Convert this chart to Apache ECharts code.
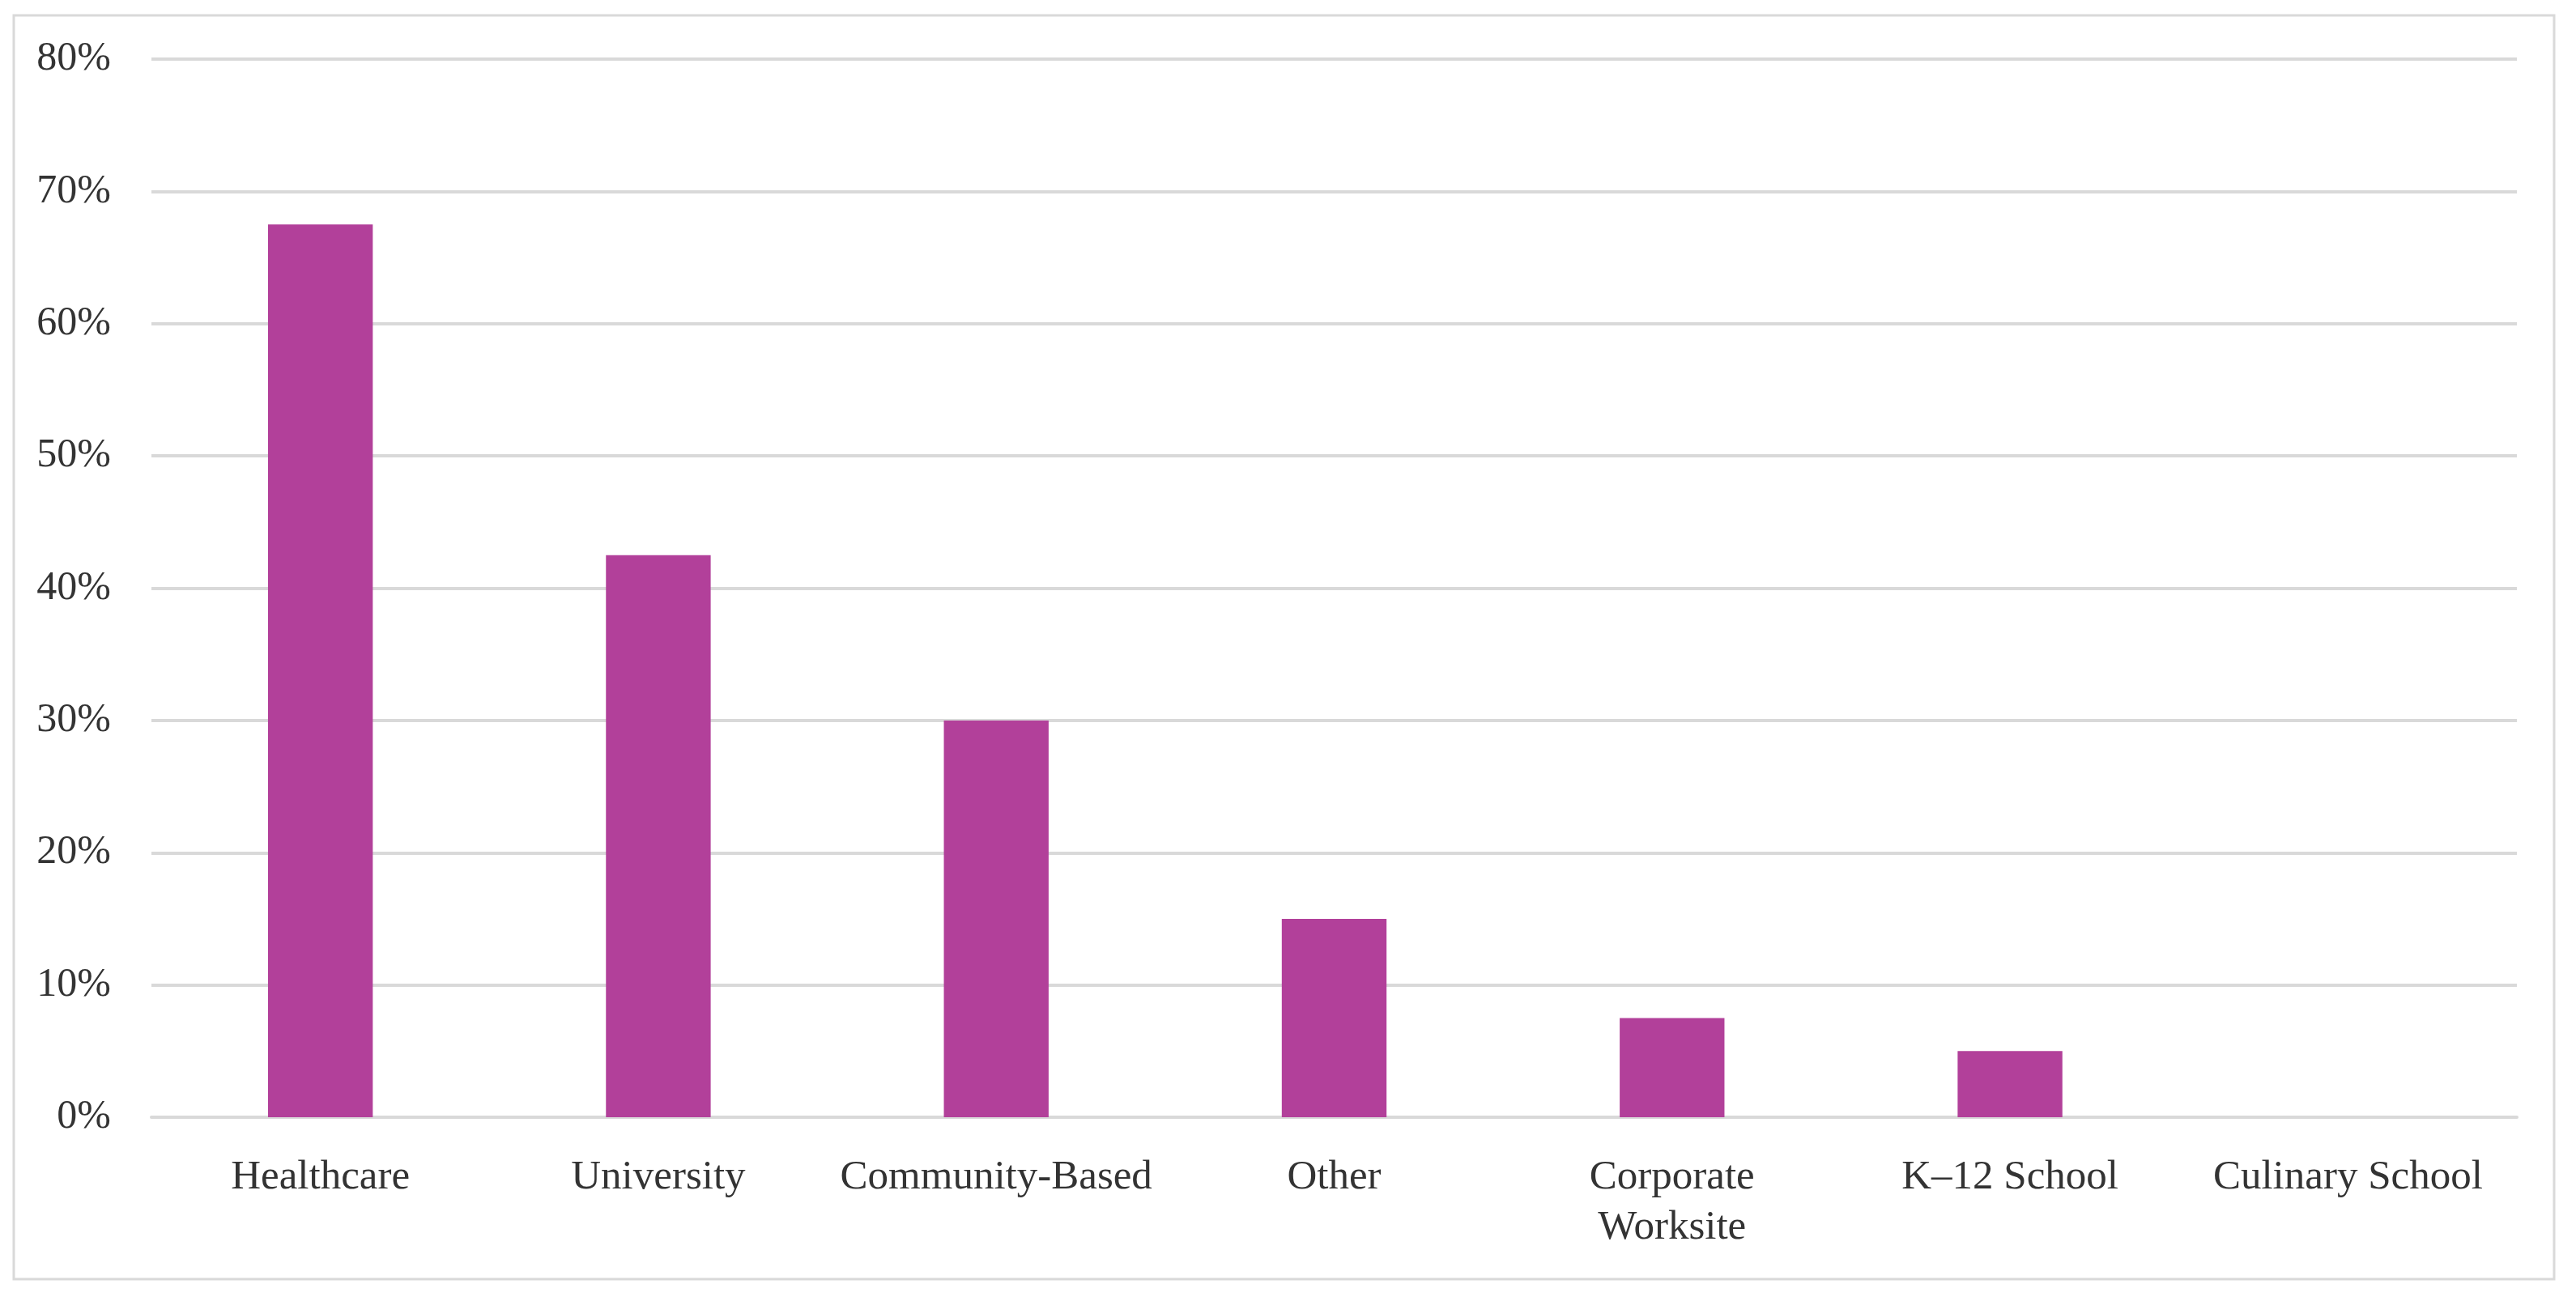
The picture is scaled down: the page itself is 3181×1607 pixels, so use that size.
<!DOCTYPE html>
<html>
<head>
<meta charset="utf-8">
<script src="https://cdn.jsdelivr.net/npm/echarts@6/dist/echarts.min.js"></script>
<style>
  html, body { margin: 0; padding: 0; background: #ffffff; }
  #chart { width: 3181px; height: 1607px; }
</style>
</head>
<body>
<div id="chart"></div>
<script>
const categories = ["Healthcare", "University", "Community-Based", "Other", "Corporate\nWorksite", "K\u201312 School", "Culinary School"];
const values = [0.675, 0.425, 0.30, 0.15, 0.075, 0.05, 0];
const yTicks = { min: 0, max: 0.8, interval: 0.1 };

const chart = echarts.init(document.getElementById('chart'), null, { renderer: 'canvas' });
const fontFamily = '"Liberation Serif", "DejaVu Serif", serif';

chart.setOption({
  backgroundColor: '#ffffff',
  animation: false,
  graphic: [{
    type: 'rect',
    shape: { x: 17, y: 19, width: 3137, height: 1561 },
    style: { fill: 'none', stroke: '#d9d9d9', lineWidth: 3 },
    silent: true
  }],
  grid: { left: 187, right: 73, top: 73, bottom: 227, containLabel: false },
  xAxis: {
    type: 'category',
    data: categories,
    axisLine: { show: true, lineStyle: { color: '#d9d9d9', width: 4 } },
    axisTick: { show: false },
    axisLabel: {
      color: '#333333',
      fontFamily: fontFamily,
      fontSize: 51,
      lineHeight: 62,
      margin: 44,
      interval: 0
    }
  },
  yAxis: {
    type: 'value',
    min: yTicks.min,
    max: yTicks.max,
    interval: yTicks.interval,
    axisLine: { show: false },
    axisTick: { show: false },
    splitLine: { show: true, lineStyle: { color: '#d9d9d9', width: 4 } },
    axisLabel: {
      color: '#333333',
      fontFamily: fontFamily,
      fontSize: 50,
      margin: 50,
      formatter: function (v) { return Math.round(v * 100) + '%'; }
    }
  },
  series: [{
    type: 'bar',
    data: values,
    barWidth: '31%',
    itemStyle: { color: '#B2409A' }
  }]
});
</script>
</body>
</html>
